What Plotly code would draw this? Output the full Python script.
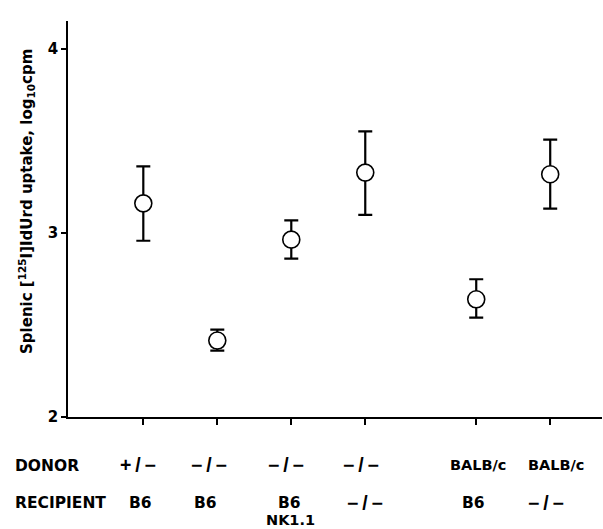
import plotly.graph_objects as go

# ---- data ----
x_pos = [1, 2, 3, 4, 5.5, 6.5]
means = [3.16, 2.415, 2.963, 3.327, 2.639, 3.318]
upper = [3.361, 2.474, 3.068, 3.551, 2.748, 3.506]
lower = [2.957, 2.36, 2.86, 3.097, 2.54, 3.131]
donor = ["+/−", "−/−", "−/−", "−/−", "BALB/c", "BALB/c"]
recipient = ["B6", "B6", "B6", "−/−", "B6", "−/−"]
recipient_sub = ["", "", "NK1.1", "", "", ""]
y_ticks = [2, 3, 4]

err_plus = [u - m for u, m in zip(upper, means)]
err_minus = [m - l for m, l in zip(means, lower)]

# ---- styles ----
BOLD = "DejaVu Sans"
donor_shift = [-5, -8, -5, -4, 2, 6]
recip_shift = [-3, -12, -2, 0, -3, -4]
THIN = "\u2009"

fig = go.Figure()
fig.add_trace(go.Scatter(
    x=x_pos, y=means, mode="markers",
    marker=dict(symbol="circle", size=17, color="white",
                line=dict(color="black", width=1.6)),
    error_y=dict(type="data", symmetric=False, array=err_plus,
                 arrayminus=err_minus, color="black", thickness=2.2, width=7),
    showlegend=False, hoverinfo="skip",
))

ann = []
# row headers
ann.append(dict(xref="paper", yref="paper", x=0, y=0, xshift=-55, yshift=-49,
                xanchor="left", yanchor="middle", showarrow=False, text="<b>DONOR</b>",
                font=dict(family=BOLD, size=15.5, color="black")))
ann.append(dict(xref="paper", yref="paper", x=0, y=0, xshift=-55, yshift=-85.5,
                xanchor="left", yanchor="middle", showarrow=False, text="<b>RECIPIENT</b>",
                font=dict(family=BOLD, size=15.5, color="black")))


def lab(t):
    if "/" in t and "BALB" not in t:
        return "<b>" + t.replace("/", THIN + "/" + THIN) + "</b>", \
            dict(family="Liberation Sans", size=19.5, color="black")
    if "BALB" in t:
        return "<b>" + t + "</b>", dict(family=BOLD, size=14.5, color="black")
    return "<b>" + t + "</b>", dict(family=BOLD, size=15.5, color="black")


for i, xv in enumerate(x_pos):
    t, f = lab(donor[i])
    ann.append(dict(xref="x", yref="paper", x=xv, y=0, xshift=donor_shift[i], yshift=-48,
                    xanchor="center", yanchor="middle", showarrow=False, text=t, font=f))
    t, f = lab(recipient[i])
    ann.append(dict(xref="x", yref="paper", x=xv, y=0, xshift=recip_shift[i], yshift=-85.5,
                    xanchor="center", yanchor="middle", showarrow=False, text=t, font=f))
    if recipient_sub[i]:
        ann.append(dict(xref="x", yref="paper", x=xv, y=0, xshift=-1, yshift=-103,
                        xanchor="center", yanchor="middle", showarrow=False,
                        text="<b>" + recipient_sub[i] + "</b>",
                        font=dict(family=BOLD, size=14.5, color="black")))

# y-axis title
ann.append(dict(xref="paper", yref="paper", x=0, y=0.543, xshift=-41,
                xanchor="center", yanchor="middle", showarrow=False, textangle=-90,
                text="<b>Splenic [<sup>125</sup>I]IdUrd uptake, log<sub>10</sub>cpm</b>",
                font=dict(family=BOLD, size=15, color="black")))

fig.update_layout(
    width=603, height=529,
    margin=dict(l=68, r=1, t=21, b=112),
    paper_bgcolor="white", plot_bgcolor="white",
    annotations=ann,
    xaxis=dict(range=[-0.018, 7.2], showgrid=False, zeroline=False,
               showline=True, linecolor="black", linewidth=1.6,
               ticks="outside", ticklen=6, tickwidth=1.6, tickcolor="black",
               tickvals=x_pos, showticklabels=False, fixedrange=True),
    yaxis=dict(range=[2, 4.15], showgrid=False, zeroline=False,
               showline=True, linecolor="black", linewidth=1.6,
               ticks="outside", ticklen=5, tickwidth=1.6, tickcolor="black",
               tickvals=y_ticks, ticktext=["<b>%d</b>" % v for v in y_ticks],
               tickfont=dict(family=BOLD, size=15, color="black"), fixedrange=True),
)

fig.write_html(
    "out.html",
    config={"displayModeBar": False},
    post_script="document.body.style.margin='0';document.body.style.overflow='hidden';",
)
